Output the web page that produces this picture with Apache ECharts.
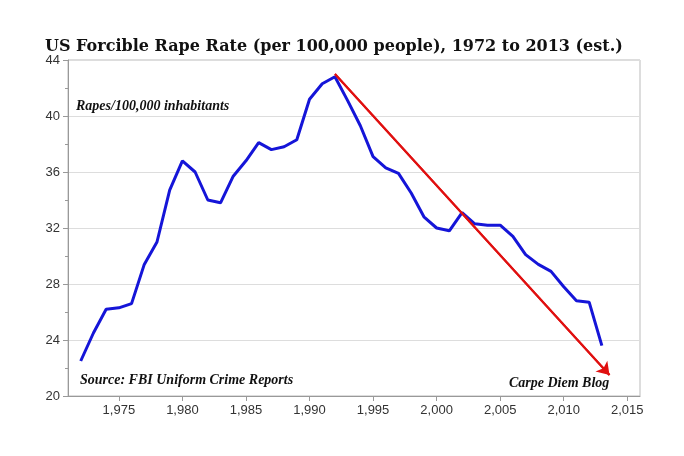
<!DOCTYPE html>
<html><head><meta charset="utf-8">
<script src="https://cdn.jsdelivr.net/npm/echarts@6/dist/echarts.min.js"></script>
<style>html,body{margin:0;background:#fff}#c{width:684px;height:456px}</style>
</head><body><div id="c"></div>
<script>
const years=[1972,1973,1974,1975,1976,1977,1978,1979,1980,1981,1982,1983,1984,1985,1986,1987,1988,1989,1990,1991,1992,1993,1994,1995,1996,1997,1998,1999,2000,2001,2002,2003,2004,2005,2006,2007,2008,2009,2010,2011,2012,2013];
const rates=[22.5,24.5,26.2,26.3,26.6,29.4,31.0,34.7,36.8,36.0,34.0,33.8,35.7,36.8,38.1,37.6,37.8,38.3,41.2,42.3,42.8,41.1,39.3,37.1,36.3,35.9,34.5,32.8,32.0,31.8,33.1,32.3,32.2,32.2,31.4,30.1,29.4,28.9,27.8,26.8,26.7,23.6];
const xTicks=[1975,1980,1985,1990,1995,2000,2005,2010,2015];
const trendX=[1992.0,2013.6];
const trendY=[43.0,21.5];
const chart=echarts.init(document.getElementById('c'));
const serif='"DejaVu Serif", "Liberation Serif", serif';
const serif2='"Liberation Serif", serif';
chart.setOption({
  animation:false,
  title:{text:'US Forcible Rape Rate (per 100,000 people), 1972 to 2013 (est.)',left:40,top:34,textStyle:{fontFamily:serif,fontWeight:'bold',fontSize:16,color:'#111'}},
  grid:{left:68,right:44,top:60,bottom:60,show:true,borderColor:'#bbb',borderWidth:1},
  xAxis:{type:'value',min:1971,max:2016,
    axisLabel:{customValues:xTicks,color:'#333',fontSize:13,fontFamily:'Liberation Sans'},
    axisLine:{lineStyle:{color:'#999'}},axisTick:{show:true,customValues:xTicks,lineStyle:{color:'#999'}},splitLine:{show:false}},
  yAxis:{type:'value',min:20,max:44,interval:4,
    axisLabel:{color:'#333',fontSize:13,fontFamily:'Liberation Sans'},
    axisLine:{show:true,lineStyle:{color:'#999'}},axisTick:{show:true,lineStyle:{color:'#999'}},
    minorTick:{show:true,splitNumber:2,lineStyle:{color:'#999'}},
    splitLine:{lineStyle:{color:'#ddd'}}},
  graphic:[
    {type:'text',left:76,top:99,style:{text:'Rapes/100,000 inhabitants',font:'italic bold 14px '+serif2,fill:'#111'}},
    {type:'text',left:80,top:373,style:{text:'Source: FBI Uniform Crime Reports',font:'italic bold 14px '+serif2,fill:'#111'}},
    {type:'text',left:509,top:376,style:{text:'Carpe Diem Blog',font:'italic bold 14px '+serif2,fill:'#111'}}
  ],
  series:[
    {type:'line',data:years.map((y,i)=>[y,rates[i]]),showSymbol:false,lineStyle:{color:'#1515d8',width:3}},
    {type:'line',data:trendX.map((x,i)=>[x,trendY[i]]),showSymbol:false,lineStyle:{color:'#e01010',width:2},
      markLine:{silent:true,symbol:['none','arrow'],symbolSize:12,label:{show:false},lineStyle:{color:'#e01010',width:2,type:'solid'},
        data:[[{coord:[trendX[0],trendY[0]]},{coord:[trendX[1],trendY[1]]}]]}}
  ]
});
</script></body></html>
